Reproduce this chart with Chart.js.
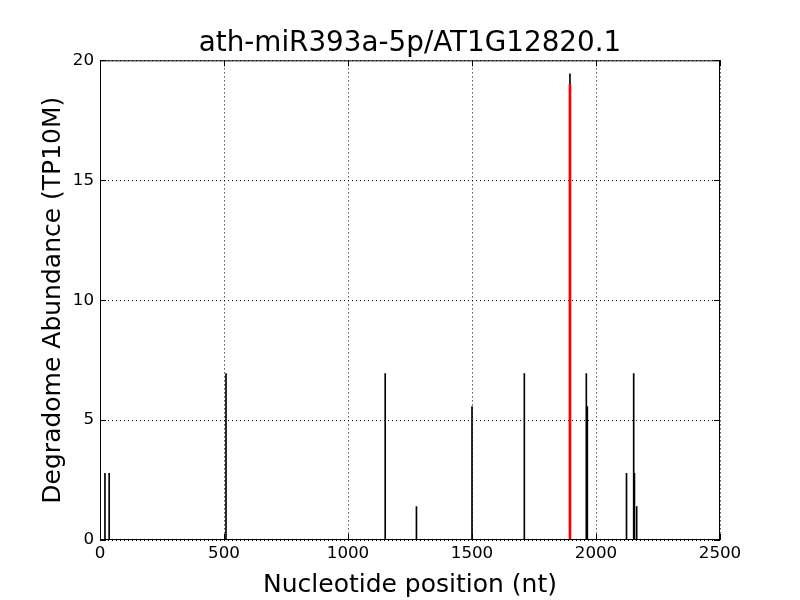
<!DOCTYPE html>
<html>
<head>
<meta charset="utf-8">
<script src="https://cdn.jsdelivr.net/npm/chart.js@4/dist/chart.umd.min.js"></script>
<style>
  body { margin: 0; background: #fff; }
  #wrap { width: 800px; height: 600px; }
</style>
</head>
<body>
<div id="wrap"><canvas id="myChart" width="800" height="600"></canvas></div>
<script>
// degradome peaks (nt position, TP10M)
const peakPos = [20, 37, 508, 1150, 1276, 1500, 1711, 1895, 1961, 1965, 2123, 2152, 2155, 2164];
const peakVal = [2.78, 2.78, 6.94, 6.94, 1.39, 5.56, 6.94, 19.44, 6.94, 5.56, 2.78, 6.94, 2.78, 1.39];
// predicted cleavage site
const sitePos = [1895];
const siteVal = [19.0];

const xTicks = [0, 500, 1000, 1500, 2000, 2500];
const yTicks = [0, 5, 10, 15, 20];

const font = "'DejaVu Sans', sans-serif";

// box frame + inward ticks, like the old matplotlib style
const framePlugin = {
    id: 'frame',
    afterDraw(chart) {
        const { ctx, chartArea: a, scales } = chart;
        ctx.save();
        ctx.strokeStyle = '#000';
        ctx.lineWidth = 1;
        ctx.strokeRect(a.left + 0.5, a.top + 0.5, a.right - a.left - 1, a.bottom - a.top - 1);
        ctx.beginPath();
        xTicks.forEach(v => {
            const x = Math.round(scales.x.getPixelForValue(v)) + 0.5;
            ctx.moveTo(x, a.bottom); ctx.lineTo(x, a.bottom - 6);
            ctx.moveTo(x, a.top); ctx.lineTo(x, a.top + 6);
        });
        yTicks.forEach(v => {
            const y = Math.round(scales.y.getPixelForValue(v)) + 0.5;
            ctx.moveTo(a.left, y); ctx.lineTo(a.left + 6, y);
            ctx.moveTo(a.right, y); ctx.lineTo(a.right - 6, y);
        });
        ctx.stroke();
        ctx.restore();
    }
};

const ctx = document.getElementById('myChart').getContext('2d');

new Chart(ctx, {
    type: 'bar',
    data: {
        datasets: [
            {
                label: 'site',
                data: sitePos.map((x, i) => ({ x: x, y: siteVal[i] })),
                backgroundColor: '#ff0000',
                barThickness: 2,
                order: 0
            },
            {
                label: 'peaks',
                data: peakPos.map((x, i) => ({ x: x, y: peakVal[i] })),
                backgroundColor: '#000000',
                barThickness: 1,
                order: 1
            }
        ]
    },
    options: {
        responsive: false,
        animation: false,
        layout: { padding: { left: 38, right: 80, top: 0, bottom: 0 } },
        datasets: { bar: { grouped: false } },
        plugins: {
            legend: { display: false },
            tooltip: { enabled: false },
            title: {
                display: true,
                fullSize: false,
                text: 'ath-miR393a-5p/AT1G12820.1',
                color: '#000',
                font: { family: font, size: 27.8, weight: 'normal' },
                padding: { top: 27, bottom: 0 }
            }
        },
        scales: {
            x: {
                type: 'linear',
                min: 0,
                max: 2500,
                offset: false,
                afterBuildTicks: (s) => { s.ticks = xTicks.map(v => ({ value: v })); },
                afterFit: (s) => { s.height = 60; },
                ticks: {
                    color: '#000', font: { family: font, size: 16.7 }, padding: 4, maxRotation: 0,
                    callback: (v) => String(v)
                },
                grid: { color: '#000', lineWidth: 1, drawTicks: false, offset: false },
                border: { display: false, dash: [1, 3] },
                title: {
                    display: true,
                    text: 'Nucleotide position (nt)',
                    color: '#000',
                    font: { family: font, size: 25 },
                    padding: { top: 1, bottom: 0 }
                }
            },
            y: {
                min: 0,
                max: 20,
                afterBuildTicks: (s) => { s.ticks = yTicks.map(v => ({ value: v })); },
                afterFit: (s) => { s.width = 62; },
                ticks: {
                    color: '#000', font: { family: font, size: 16.7 }, padding: 6,
                    callback: (v) => String(v)
                },
                grid: { color: '#000', lineWidth: 1, drawTicks: false },
                border: { display: false, dash: [1, 3] },
                title: {
                    display: true,
                    text: 'Degradome Abundance (TP10M)',
                    color: '#000',
                    font: { family: font, size: 25 },
                    padding: { top: 0, bottom: 0 }
                }
            }
        }
    },
    plugins: [framePlugin]
});
</script>
</body>
</html>
